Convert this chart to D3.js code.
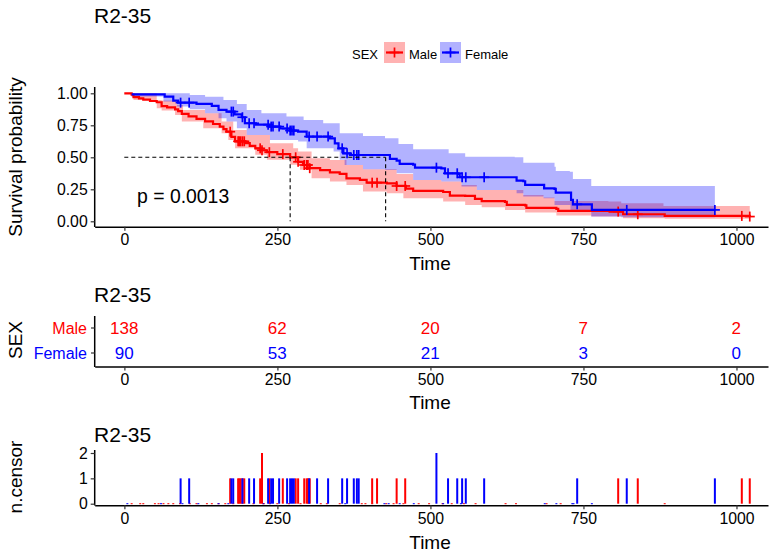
<!DOCTYPE html>
<html><head><meta charset="utf-8">
<script src="https://cdn.jsdelivr.net/npm/d3@7/dist/d3.min.js"></script>
<style>html,body{margin:0;padding:0;background:#fff}svg{display:block}text{font-family:"Liberation Sans",Arial,sans-serif;fill:#000}</style>
</head><body><svg id="c" width="775" height="557"></svg>
<script>
const chartTitle = "R2-35";
const groups = ["Male", "Female"];
const groupColors = ["#ff0000", "#0000ff"];
const timeTicks = [0, 250, 500, 750, 1000];
const survTicks = [0, 0.25, 0.5, 0.75, 1];
const censorTicks = [0, 1, 2];

const maleCurve = [[0,1],[12,.99],[15,.97],[24,.96],[31,.95],[42,.94],[53,.93],[61,.9],[70,.89],[83,.875],[88,.86],[94,.84],[105,.82],[118,.8],[132,.78],[145,.76],[156,.74],[162,.72],[167,.7],[175,.66],[181,.625],[197,.61],[205,.59],[214,.57],[225,.555],[233,.54],[250,.525],[271,.5],[284,.465],[292,.44],[303,.415],[320,.4],[336,.383],[352,.37],[363,.336],[385,.323],[396,.302],[429,.297],[445,.276],[460,.255],[472,.237],[521,.229],[532,.2],[557,.198],[573,.175],[584,.157],[622,.151],[625,.128],[655,.125],[657,.105],[706,.097],[709,.081],[793,.076],[815,.055],[881,.055],[883,.042],[1022,.037]];
const femaleCurve = [[12,.992],[59,.992],[66,.974],[80,.943],[88,.927],[118,.917],[143,.901],[154,.87],[167,.857],[180,.835],[192,.813],[197,.766],[215,.755],[238,.74],[255,.725],[271,.709],[284,.701],[298,.662],[336,.648],[344,.609],[350,.57],[358,.531],[369,.518],[426,.518],[434,.487],[445,.474],[450,.448],[472,.443],[475,.419],[518,.414],[524,.375],[546,.37],[548,.344],[638,.344],[641,.318],[652,.313],[655,.284],[679,.284],[686,.258],[703,.253],[705,.224],[728,.224],[730,.167],[733,.133],[763,.133],[764,.089],[965,.089]];

const maleUpper = [[12,1],[53,.948],[61,.943],[86,.909],[96,.87],[132,.844],[159,.779],[178,.714],[200,.675],[238,.61],[276,.571],[284,.545],[306,.493],[336,.479],[363,.44],[390,.406],[445,.37],[472,.323],[518,.31],[551,.284],[576,.245],[652,.206],[685,.185],[703,.159],[791,.154],[812,.141],[881,.12],[1022,.12]];
const maleLower = [[12,.974],[15,.948],[53,.883],[61,.865],[83,.831],[94,.779],[129,.727],[159,.688],[170,.636],[181,.571],[214,.519],[233,.48],[271,.441],[287,.402],[306,.337],[336,.31],[363,.284],[390,.232],[429,.219],[456,.18],[521,.154],[557,.128],[584,.11],[622,.089],[655,.068],[706,.045],[763,.037],[815,.024],[883,.019],[1022,.019]];
const femaleUpper = [[12,1],[69,1],[107,.987],[132,.974],[162,.948],[184,.917],[200,.87],[224,.844],[265,.818],[293,.792],[325,.766],[352,.687],[390,.666],[426,.648],[448,.604],[472,.562],[530,.531],[557,.505],[638,.5],[652,.458],[703,.427],[705,.393],[728,.388],[733,.331],[763,.276],[965,.276]];
const femaleLower = [[12,.975],[64,.935],[86,.896],[107,.875],[132,.844],[154,.805],[167,.779],[184,.727],[200,.675],[238,.636],[284,.623],[298,.571],[342,.545],[352,.48],[360,.44],[390,.406],[426,.4],[445,.375],[472,.323],[518,.31],[551,.271],[576,.245],[641,.219],[652,.193],[685,.18],[703,.128],[729,.089],[763,.037],[812,.032],[965,.032]];

const medianLines = [271, 427];
const pLabel = "p = 0.0013";

const riskMale = [138, 62, 20, 7, 2];
const riskFemale = [90, 53, 21, 3, 0];

const maleCensor1 = [173,186,188,190,193,196,222,237,259,280,284,294,298,300,303,405,413,445,459,807,839,1009,1022];
const maleCensor2 = [225];
const femaleCensor1 = [92,106,175,178,193,204,212,235,240,243,253,266,271,274,277,302,315,333,356,364,375,380,383,529,544,552,558,588,740,821,965];
const femaleCensor2 = [510];
const maleCensor0 = [12,26,31,50,56,64,72,80,91,107,118,135,143,154,165,178,211,228,250,269,288,321,331,352,388,394,405,428,440,456,481,498,520,535,555,574,623,640,690,713,883];
const femaleCensor0 = [5,60,95,121,154,170,227,238,361,425,432,450,473,521,550,687,706,732,734,764];

const x = d3.scaleLinear().domain([0, 1000]).range([124.3, 736.3]);
const y = d3.scaleLinear().domain([0, 1]).range([221.3, 93.3]);
const yC = d3.scaleLinear().domain([0, 2]).range([503.7, 453]);
const svg = d3.select("#c");

function stepAt(arr, t) {
  const i = d3.bisectRight(arr.map(d => d[0]), t) - 1;
  return arr[Math.max(i, 0)][1];
}
function axisStyle(g) {
  g.selectAll("path.domain").attr("stroke", "#000").attr("stroke-width", 1.5);
  g.selectAll(".tick line").attr("stroke", "#333").attr("stroke-width", 1.2);
  g.selectAll(".tick text").attr("fill", "#000").style("font-size", "15.8px").style("font-family", '"Liberation Sans",Arial,sans-serif');
}
function drawXAxis(yPos, titleY) {
  const g = svg.append("g").attr("transform", `translate(0,${yPos})`)
    .call(d3.axisBottom(d3.scaleLinear().domain([-48.5, 1051.5]).range([94.7, 768])).tickValues(timeTicks).tickFormat(d3.format("d")).tickSizeInner(4).tickSizeOuter(0).tickPadding(3));
  axisStyle(g);
  svg.append("text").attr("x", 430).attr("y", titleY).attr("text-anchor", "middle").style("font-size", "19px").text("Time");
}
function drawYSpine(top, bottom) {
  svg.append("line").attr("x1", 94.7).attr("x2", 94.7).attr("y1", top).attr("y2", bottom).attr("stroke", "#000").attr("stroke-width", 1.5);
}
function drawTitle(yPos) {
  svg.append("text").attr("x", 94).attr("y", yPos).style("font-size", "21px").text(chartTitle);
}
function yTitle(txt, xPos, yPos) {
  svg.append("text").attr("transform", `translate(${xPos},${yPos}) rotate(-90)`).attr("text-anchor", "middle").style("font-size", "19px").text(txt);
}

/* top panel */
drawTitle(23);
[[maleUpper, maleLower, 0], [femaleUpper, femaleLower, 1]].forEach(([up, lo, k]) => {
  const times = Array.from(new Set(up.map(d => d[0]).concat(lo.map(d => d[0])))).sort((a, b) => a - b);
  const area = d3.area().curve(d3.curveStepAfter).x(t => x(t)).y0(t => y(stepAt(lo, t))).y1(t => y(stepAt(up, t)));
  svg.append("path").attr("d", area(times)).attr("fill", groupColors[k]).attr("opacity", 0.3);
});
[[maleCurve, maleCensor1.concat(maleCensor2), 0], [femaleCurve, femaleCensor1.concat(femaleCensor2), 1]].forEach(([cv, cens, k]) => {
  const line = d3.line().curve(d3.curveStepAfter).x(d => x(d[0])).y(d => y(d[1]));
  svg.append("path").attr("d", line(cv)).attr("fill", "none").attr("stroke", groupColors[k]).attr("stroke-width", 2.2);
  const g = svg.append("g").attr("stroke", groupColors[k]).attr("stroke-width", 1.7);
  cens.forEach(t => {
    const px = x(t), py = y(stepAt(cv, t));
    g.append("line").attr("x1", px - 5).attr("x2", px + 5).attr("y1", py).attr("y2", py);
    g.append("line").attr("x1", px).attr("x2", px).attr("y1", py - 5).attr("y2", py + 5);
  });
});
const dash = svg.append("g").attr("stroke", "#000").attr("stroke-width", 1.1).attr("stroke-dasharray", "4,3").attr("fill", "none");
dash.append("line").attr("x1", x(0)).attr("x2", x(medianLines[1])).attr("y1", y(.5)).attr("y2", y(.5));
medianLines.forEach(t => dash.append("line").attr("x1", x(t)).attr("x2", x(t)).attr("y1", y(.5)).attr("y2", y(0)));
svg.append("text").attr("x", 137).attr("y", 203).style("font-size", "19.4px").text(pLabel);

drawYSpine(87, 227);
const ga = svg.append("g").attr("transform", "translate(94.7,0)").call(d3.axisLeft(y).tickValues(survTicks).tickFormat(d3.format(".2f")).tickSizeInner(4).tickSizeOuter(0).tickPadding(3));
axisStyle(ga); ga.select("path.domain").remove();
drawXAxis(226.7, 270);
yTitle("Survival probability", 22, 157);

/* legend */
svg.append("text").attr("x", 352).attr("y", 59).style("font-size", "13px").text("SEX");
[[384, 409, 0], [440, 465, 1]].forEach(([kx, tx, k]) => {
  svg.append("rect").attr("x", kx).attr("y", 42).attr("width", 21).attr("height", 21).attr("fill", groupColors[k]).attr("opacity", 0.3);
  svg.append("line").attr("x1", kx + 2).attr("x2", kx + 19).attr("y1", 52.5).attr("y2", 52.5).attr("stroke", groupColors[k]).attr("stroke-width", 2.2);
  svg.append("line").attr("x1", kx + 10.5).attr("x2", kx + 10.5).attr("y1", 47.5).attr("y2", 57.5).attr("stroke", groupColors[k]).attr("stroke-width", 1.7);
  svg.append("line").attr("x1", kx + 5.5).attr("x2", kx + 15.5).attr("y1", 52.5).attr("y2", 52.5).attr("stroke", groupColors[k]).attr("stroke-width", 1.7);
  svg.append("text").attr("x", tx).attr("y", 59).style("font-size", "13px").text(groups[k]);
});

/* risk table */
drawTitle(302);
const rowY = d3.scalePoint().domain(groups).range([328, 353]);
drawYSpine(316, 367);
[[riskMale, "Male", 0], [riskFemale, "Female", 1]].forEach(([vals, name, k]) => {
  vals.forEach((v, i) => svg.append("text").attr("x", x(timeTicks[i])).attr("y", rowY(name) + 6).attr("text-anchor", "middle").style("font-size", "17px").style("fill", groupColors[k]).text(v));
  svg.append("line").attr("x1", 91).attr("x2", 94.7).attr("y1", rowY(name)).attr("y2", rowY(name)).attr("stroke", "#333").attr("stroke-width", 1.2);
  svg.append("text").attr("x", 87).attr("y", rowY(name) + 5.5).attr("text-anchor", "end").style("font-size", "16px").style("fill", groupColors[k]).text(name);
});
drawXAxis(366.5, 409);
yTitle("SEX", 22, 340);

/* censor panel */
drawTitle(442);
function bars(times, n, k) {
  svg.append("g").selectAll("rect").data(times).join("rect")
    .attr("x", t => x(t) - 1).attr("width", 2)
    .attr("y", yC(n)).attr("height", yC(0) - yC(n)).attr("fill", groupColors[k]);
}
function ticks0(times, k) {
  svg.append("g").selectAll("rect").data(times).join("rect")
    .attr("x", t => x(t) - 1).attr("width", 2)
    .attr("y", yC(0) - 0.5).attr("height", 1).attr("fill", groupColors[k]);
}
ticks0(maleCensor0, 0); ticks0(femaleCensor0, 1);
bars(maleCensor1, 1, 0); bars(femaleCensor1, 1, 1);
bars(maleCensor2, 2, 0); bars(femaleCensor2, 2, 1);
drawYSpine(450, 505.5);
const gc = svg.append("g").attr("transform", "translate(94.7,0)").call(d3.axisLeft(yC).tickValues(censorTicks).tickFormat(d3.format("d")).tickSizeInner(4).tickSizeOuter(0).tickPadding(3));
axisStyle(gc); gc.select("path.domain").remove();
drawXAxis(505.3, 549);
yTitle("n.censor", 22, 477);
</script></body></html>
